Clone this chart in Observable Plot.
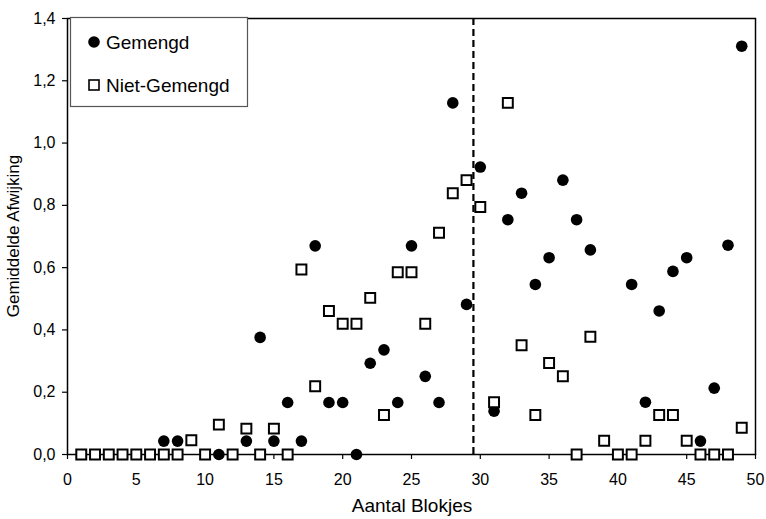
<!DOCTYPE html>
<html>
<head>
<meta charset="utf-8">
<script src="https://cdn.jsdelivr.net/npm/d3@7"></script>
<script src="https://cdn.jsdelivr.net/npm/@observablehq/plot@0.6"></script>
<style>
  body { margin: 0; background: #fff; }
  #chart { position: relative; width: 766px; height: 519px; }
</style>
</head>
<body>
<div id="chart"></div>
<script>
// Gemengd (filled circles)
const gemengdX = [7, 8, 11, 13, 14, 15, 16, 17, 18, 19, 20, 21, 22, 23, 24, 25, 26, 27, 28, 29, 30, 31, 32, 33, 34, 35, 36, 37, 38, 41, 42, 43, 44, 45, 46, 47, 48, 49];
const gemengdY = [0.043, 0.043, 0, 0.043, 0.376, 0.043, 0.167, 0.043, 0.670, 0.167, 0.167, 0, 0.293, 0.336, 0.167, 0.670, 0.251, 0.167, 1.129, 0.482, 0.923, 0.139, 0.754, 0.839, 0.546, 0.632, 0.881, 0.754, 0.657, 0.546, 0.168, 0.461, 0.588, 0.632, 0.043, 0.213, 0.672, 1.311];

// Niet-Gemengd (open squares)
const nietX = [1, 2, 3, 4, 5, 6, 7, 8, 9, 10, 11, 12, 13, 14, 15, 16, 17, 18, 19, 20, 21, 22, 23, 24, 25, 26, 27, 28, 29, 30, 31, 32, 33, 34, 35, 36, 37, 38, 39, 40, 41, 42, 43, 44, 45, 46, 47, 48, 49];
const nietY = [0, 0, 0, 0, 0, 0, 0, 0, 0.046, 0, 0.096, 0, 0.083, 0, 0.083, 0, 0.594, 0.219, 0.461, 0.420, 0.420, 0.503, 0.127, 0.585, 0.585, 0.420, 0.712, 0.839, 0.881, 0.795, 0.168, 1.129, 0.351, 0.127, 0.294, 0.251, 0, 0.378, 0.044, 0, 0, 0.044, 0.127, 0.127, 0.044, 0, 0, 0, 0.086];

const xTicks = [0, 5, 10, 15, 20, 25, 30, 35, 40, 45, 50];
const yTicks = [0, 0.2, 0.4, 0.6, 0.8, 1.0, 1.2, 1.4];
const splitX = [29.5];
const seriesNames = ["Gemengd", "Niet-Gemengd"];

const gemengd = gemengdX.map((x, i) => ({x, y: gemengdY[i]}));
const niet = nietX.map((x, i) => ({x, y: nietY[i]}));
const fmt = d => d.toFixed(1).replace(".", ",");

const font = "'Liberation Sans', Arial, Helvetica, sans-serif";

const chart = Plot.plot({
  width: 766,
  height: 519,
  marginLeft: 67,
  marginRight: 11,
  marginTop: 18,
  marginBottom: 65,
  style: {fontFamily: font, fontSize: "16px", color: "#000", background: "#fff"},
  x: {domain: [0, 50]},
  y: {domain: [0, 1.4]},
  marks: [
    Plot.frame({stroke: "#000", strokeWidth: 1.5}),
    Plot.axisX({ticks: xTicks, tickSize: 5, tickPadding: 14, fontSize: 16, label: null, stroke: "#000", strokeWidth: 1.2, fill: "#000"}),
    Plot.axisY({ticks: yTicks, tickSize: 5, tickPadding: 7, fontSize: 16, tickFormat: fmt, label: null, stroke: "#000", strokeWidth: 1.2, fill: "#000"}),
    Plot.ruleX(splitX, {y1: 0, y2: 1.4, stroke: "#000", strokeWidth: 2.2, strokeDasharray: "7,4"}),
    Plot.dot(gemengd, {x: "x", y: "y", r: 5.8, fill: "#000", stroke: "none"}),
    Plot.dot(niet, {x: "x", y: "y", symbol: "square", r: 5.6, fill: "#fff", stroke: "#000", strokeWidth: 2})
  ]
});

document.getElementById("chart").appendChild(chart);

// Axis titles and legend
const svg = d3.select(chart);
svg.append("text")
  .attr("x", 412).attr("y", 512)
  .attr("text-anchor", "middle").attr("fill", "#000")
  .style("font-family", font).style("font-size", "19px")
  .text("Aantal Blokjes");
svg.append("text")
  .attr("transform", "translate(19,236) rotate(-90)")
  .attr("text-anchor", "middle").attr("fill", "#000")
  .style("font-family", font).style("font-size", "17px")
  .text("Gemiddelde Afwijking");

const lg = svg.append("g");
lg.append("rect").attr("x", 70.5).attr("y", 17.5).attr("width", 177).attr("height", 89)
  .attr("fill", "#fff").attr("stroke", "#555").attr("stroke-width", 1.2);
lg.append("circle").attr("cx", 94).attr("cy", 42).attr("r", 5.8).attr("fill", "#000");
lg.append("rect").attr("x", 89).attr("y", 80).attr("width", 10).attr("height", 10)
  .attr("fill", "#fff").attr("stroke", "#000").attr("stroke-width", 1.6);
lg.append("text").attr("x", 106).attr("y", 48.5)
  .attr("text-anchor", "start").attr("fill", "#000")
  .style("font-family", font).style("font-size", "19px").text(seriesNames[0]);
lg.append("text").attr("x", 106).attr("y", 91.5)
  .attr("text-anchor", "start").attr("fill", "#000")
  .style("font-family", font).style("font-size", "19px").text(seriesNames[1]);
</script>
</body>
</html>
